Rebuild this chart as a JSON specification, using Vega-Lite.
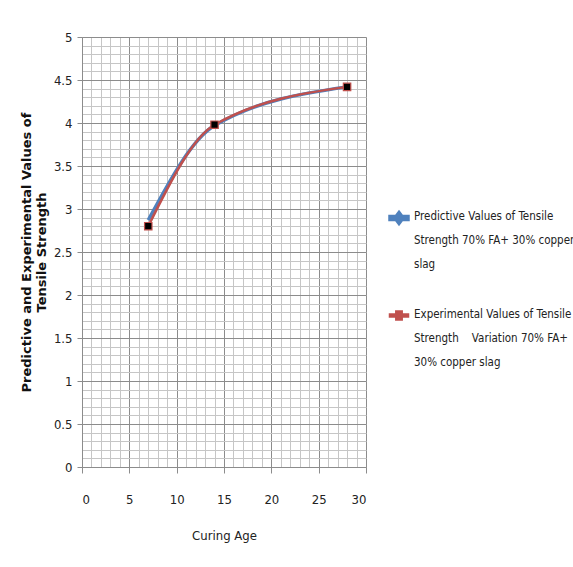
{
  "$schema": "https://vega.github.io/schema/vega-lite/v6.json",
  "autosize": "none",
  "width": 284,
  "height": 430,
  "padding": {"left": 82, "top": 37, "right": 207, "bottom": 100},
  "background": "white",
  "config": {"view": {"stroke": null}},
  "data": {"values": [
    {"age": 7, "value": 2.87, "series": "Predictive Values of Tensile Strength 70% FA+ 30% copper slag"},
    {"age": 14, "value": 3.97, "series": "Predictive Values of Tensile Strength 70% FA+ 30% copper slag"},
    {"age": 28, "value": 4.42, "series": "Predictive Values of Tensile Strength 70% FA+ 30% copper slag"},
    {"age": 7, "value": 2.8, "series": "Experimental Values of Tensile Strength Variation 70% FA+ 30% copper slag"},
    {"age": 14, "value": 3.98, "series": "Experimental Values of Tensile Strength Variation 70% FA+ 30% copper slag"},
    {"age": 28, "value": 4.42, "series": "Experimental Values of Tensile Strength Variation 70% FA+ 30% copper slag"}
  ]},
  "resolve": {"axis": {"x": "independent", "y": "independent"}},
  "layer": [
    {
      "mark": {"type": "line", "interpolate": "monotone"},
      "encoding": {
        "x": {"field": "age", "type": "quantitative", "scale": {"domain": [0, 30], "nice": false},
          "axis": {"orient": "bottom", "values": [0,1,2,3,4,5,6,7,8,9,10,11,12,13,14,15,16,17,18,19,20,21,22,23,24,25,26,27,28,29,30],
            "grid": true, "gridColor": "#c6c6c6", "gridWidth": 1, "gridOpacity": 1, "labels": false, "ticks": false, "domain": false, "title": null}},
        "y": {"field": "value", "type": "quantitative", "scale": {"domain": [0, 5], "nice": false},
          "axis": {"orient": "left", "values": [0,0.1,0.2,0.3,0.4,0.5,0.6,0.7,0.8,0.9,1,1.1,1.2,1.3,1.4,1.5,1.6,1.7,1.8,1.9,2,2.1,2.2,2.3,2.4,2.5,2.6,2.7,2.8,2.9,3,3.1,3.2,3.3,3.4,3.5,3.6,3.7,3.8,3.9,4,4.1,4.2,4.3,4.4,4.5,4.6,4.7,4.8,4.9,5],
            "grid": true, "gridColor": "#c6c6c6", "gridWidth": 1, "gridOpacity": 1, "labels": false, "ticks": false, "domain": false, "title": null}},
        "color": {"field": "series", "type": "nominal",
          "scale": {"domain": ["Predictive Values of Tensile Strength 70% FA+ 30% copper slag", "Experimental Values of Tensile Strength Variation 70% FA+ 30% copper slag"], "range": ["#4F81BD", "#C0504D"]},
          "legend": {
            "orient": "none", "legendX": 306, "legendY": 170, "title": null,
            "labelFont": "Liberation Sans Narrow, DejaVu Sans Condensed, sans-serif", "labelFontSize": 11.5, "labelColor": "#222",
            "labelLimit": 300, "labelOffset": 4, "rowPadding": 34,
            "symbolSize": 324, "symbolStrokeWidth": 0,
            "labelExpr": "datum.index == 0 ? ['Predictive Values of Tensile', 'Strength 70% FA+ 30% copper', 'slag'] : ['Experimental Values of Tensile', 'Strength\u00a0\u00a0\u00a0\u00a0Variation 70% FA+', '30% copper slag']",
            "encode": {
              "labels": {"update": {"lineHeight": {"value": 24}, "baseline": {"value": "top"}, "dy": {"value": -7}}},
              "symbols": {"update": {
                "shape": {"signal": "datum.index == 0 ? 'M-1,-0.17H1V0.17H-1Z M0,-0.6L0.45,0L0,0.6L-0.45,0Z' : 'M-1,-0.12H1V0.12H-1Z M-0.3,-0.45H0.3V0.45H-0.3Z'"},
                "fill": {"signal": "datum.index == 0 ? '#4F81BD' : '#C0504D'"},
                "fillOpacity": {"value": 1},
                "strokeWidth": {"value": 0}
              }}
            }
          }},
        "strokeWidth": {"field": "series", "type": "nominal",
          "scale": {"domain": ["Predictive Values of Tensile Strength 70% FA+ 30% copper slag", "Experimental Values of Tensile Strength Variation 70% FA+ 30% copper slag"], "range": [3.5, 2.5]},
          "legend": null}
      }
    },
    {
      "transform": [{"filter": "datum.series == 'Experimental Values of Tensile Strength Variation 70% FA+ 30% copper slag'"}],
      "mark": {"type": "square", "filled": true, "color": "#000000", "stroke": "#C0504D", "strokeWidth": 1.2, "size": 55, "opacity": 1},
      "encoding": {
        "x": {"field": "age", "type": "quantitative",
          "axis": {"orient": "bottom", "values": [0,5,10,15,20,25,30], "grid": true, "gridColor": "#8c8c8c", "gridWidth": 1, "gridOpacity": 1,
            "domainColor": "#8c8c8c", "tickColor": "#8c8c8c", "tickSize": 6,
            "labelFont": "Liberation Sans Narrow, DejaVu Sans Condensed, sans-serif", "labelFontSize": 13, "labelColor": "#222", "labelPadding": 20,
            "title": "Curing Age", "titleFont": "Liberation Sans Narrow, DejaVu Sans Condensed, sans-serif", "titleFontSize": 13, "titleFontWeight": "normal", "titleColor": "#222", "titlePadding": 23}},
        "y": {"field": "value", "type": "quantitative",
          "axis": {"values": [0,0.5,1,1.5,2,2.5,3,3.5,4,4.5,5], "format": "~g", "grid": true, "gridColor": "#8c8c8c", "gridWidth": 1, "gridOpacity": 1, "orient": "left",
            "domainColor": "#8c8c8c", "tickColor": "#8c8c8c", "tickSize": 5,
            "labelFont": "Liberation Sans Narrow, DejaVu Sans Condensed, sans-serif", "labelFontSize": 13, "labelColor": "#222", "labelPadding": 5,
            "title": ["Predictive and Experimental Values of", "Tensile Strength"], "titleFont": "DejaVu Sans", "titleFontSize": 13, "titleFontWeight": "bold", "titleColor": "#111", "titlePadding": 5, "titleLineHeight": 15}}
      }
    }
  ]
}
